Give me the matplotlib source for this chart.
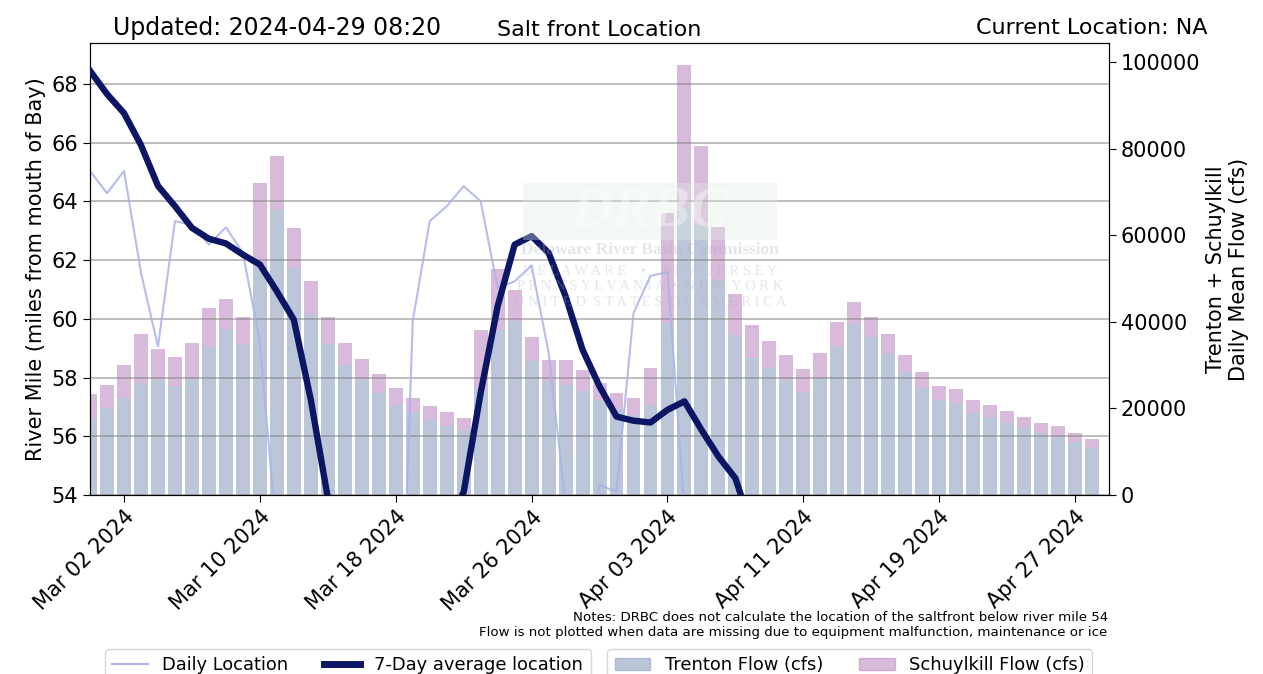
import numpy as np
import pandas as pd
import matplotlib
matplotlib.use("Agg")
import matplotlib.pyplot as plt
import matplotlib.dates as mdates
from matplotlib.lines import Line2D
from matplotlib.patches import Patch, Rectangle

# daily dates shown on the chart
dates = pd.date_range("2024-02-29", periods=60, freq="D")

# daily salt front location (river mile), NaN = not available
daily_loc = [65.04, 64.28, 65.04, 61.57, 59.06, 63.33, 63.2, 62.53, 63.12, 62.25,
             59.2, 52.5, 52.0, 52.0, 52.0, 52.0, 52.0, 52.0, 43.0, 59.92,
             63.33, 63.84, 64.52, 64.01, 61.05, 61.28, 61.82, 58.85, 53.7, 52.1,
             54.34, 54.11, 60.2, 61.47, 61.59, 53.5] + [np.nan] * 24

# 7-day average location
avg_loc = [68.45, 67.66, 67.01, 65.92, 64.53, 63.84, 63.10, 62.73, 62.57, 62.19,
           61.85, 60.94, 59.97, 57.24, 53.9, 52.5, 52.0, 52.0, 52.0, 52.0,
           52.5, 53.0, 54.1, 57.48, 60.43, 62.53, 62.82, 62.25, 60.77, 58.95,
           57.70, 56.67, 56.53, 56.47, 56.90, 57.19, 56.22, 55.31, 54.57, 52.8] + [np.nan] * 20

# Trenton daily mean flow (cfs)
trenton = [17480, 20020, 22330, 25790, 26550, 25170, 26780, 34100, 38260, 34790,
           52600, 65810, 52340, 41490, 34940, 29950, 26620, 23620, 20780, 19090,
           17320, 15930, 14850, 24400, 38100, 40180, 30870, 26010, 25400, 24010,
           21940, 19790, 18400, 20780, 39790, 66340, 62340, 49640, 36870, 31560,
           29250, 26480, 23860, 26940, 34100, 39410, 36480, 32560, 28480, 24780,
           21860, 21170, 18860, 17940, 16550, 15400, 14250, 13470, 12170, 10780]

# Schuylkill daily mean flow (cfs)
schuylkill = [5840, 5380, 7690, 11390, 7160, 6690, 8320, 9150, 7000, 6310,
              19440, 12470, 9240, 7920, 6160, 5150, 4780, 4320, 3930, 3310,
              3230, 3230, 2930, 13700, 14010, 7150, 5690, 5160, 5770, 4850,
              3990, 3830, 4070, 8620, 25320, 32950, 18250, 12240, 9540, 7690,
              6310, 5850, 5230, 5850, 5850, 5150, 4620, 4620, 3850, 3620,
              3310, 3310, 3080, 2840, 2850, 2610, 2370, 2460, 2150, 2150]

blue = "#8fa1bf"
pink = "#be8dc3"
daily_col = "#aab2ec"
avg_col = "#0c1664"

fig = plt.figure(figsize=(12.63, 6.74), dpi=100)
ax = fig.add_axes([0.0713, 0.2656, 0.8068, 0.6706])

# flow bars on the right axis (drawn underneath the location axis)
ax2 = ax.twinx()
ax2.set_facecolor("#f5f9f8")
ax.set_zorder(ax2.get_zorder() + 1)
ax.patch.set_visible(False)
ax2.bar(dates, trenton, width=0.82, color=blue, alpha=0.6)
ax2.bar(dates, schuylkill, width=0.82, bottom=trenton, color=pink, alpha=0.6)
ax2.set_ylim(0, 104400)
ax2.set_ylabel("Trenton + Schuylkill\nDaily Mean Flow (cfs)", fontsize=15)
ax2.tick_params(axis="y", labelsize=15, length=5)

# location lines on the left axis
ax.plot(dates, daily_loc, color=daily_col, lw=1.5, alpha=0.85, zorder=2)
ax.plot(dates, avg_loc, color=avg_col, lw=4.6, zorder=3)
ax.set_ylim(54, 69.4)
ax.set_yticks(np.arange(54, 69, 2))
ax.yaxis.grid(True, color="grey", alpha=0.55, lw=1.3)
ax.set_axisbelow(True)
ax.set_ylabel("River Mile (miles from mouth of Bay)", fontsize=15)
ax.tick_params(axis="both", labelsize=15, length=5)

ax.set_xlim(dates[0], dates[-1] + pd.Timedelta(days=1))
ax.set_xticks(dates[2::8])
ax.xaxis.set_major_formatter(mdates.DateFormatter("%b %d %Y"))
plt.setp(ax.get_xticklabels(), rotation=45, ha="right", rotation_mode="anchor")

# titles
ax.set_title("Salt front Location", fontsize=16, pad=5)
fig.text(113 / 1263, 0.958, "Updated: 2024-04-29 08:20", fontsize=17, ha="left", va="center")
fig.text(1208 / 1263, 0.958, "Current Location: NA", fontsize=16, ha="right", va="center")

# faint DRBC watermark
fig.patches.append(Rectangle((523 / 1263, 1 - 240 / 674), 254 / 1263, 57 / 674,
                             transform=fig.transFigure, facecolor="#e2ede4",
                             edgecolor="none", alpha=0.35, zorder=5))
fig.text(650 / 1263, 1 - 211 / 674, "DRBC", fontsize=42, family="Liberation Serif",
         style="italic", weight="bold", color="white", alpha=0.4,
         ha="center", va="center", zorder=6)
fig.text(650 / 1263, 1 - 250 / 674, "Delaware River Basin Commission", fontsize=12.5,
         family="Liberation Serif", weight="bold", color="#a9afbb", alpha=0.3,
         ha="center", va="center", zorder=6)
wm_lines = ["D E L A W A R E    •    N E W  J E R S E Y",
            "P E N N S Y L V A N I A  •  N E W  Y O R K",
            "U N I T E D  S T A T E S  O F  A M E R I C A"]
for k, s in enumerate(wm_lines):
    fig.text(650 / 1263, 1 - (271 + 16 * k) / 674, s, fontsize=10.5,
             family="Liberation Serif", color="#a9afbb", alpha=0.3,
             ha="center", va="center", zorder=6)

# notes
fig.text(0.877, 1 - 625 / 674,
         "Notes: DRBC does not calculate the location of the saltfront below river mile 54\n"
         "Flow is not plotted when data are missing due to equipment malfunction, maintenance or ice",
         fontsize=9.6, ha="right", va="center", multialignment="right")

# legends
h1 = [Line2D([], [], color=daily_col, lw=1.5), Line2D([], [], color=avg_col, lw=5)]
fig.legend(h1, ["Daily Location", "7-Day average location"], ncol=2,
           loc="upper left", bbox_to_anchor=(105 / 1263, 1 - 649 / 674),
           fontsize=12.9, frameon=True, borderaxespad=0)
h2 = [Patch(color=blue, alpha=0.6), Patch(color=pink, alpha=0.6)]
fig.legend(h2, ["Trenton Flow (cfs)", "Schuylkill Flow (cfs)"], ncol=2,
           loc="upper right", bbox_to_anchor=(1092 / 1263, 1 - 649 / 674),
           fontsize=12.9, frameon=True, borderaxespad=0)

fig.savefig("out.png", dpi=100)
